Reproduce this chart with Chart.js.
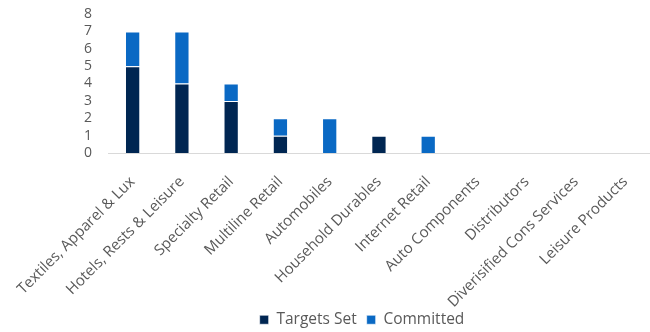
<!DOCTYPE html>
<html>
<head>
<meta charset="utf-8">
<script src="https://cdn.jsdelivr.net/npm/chart.js@4/dist/chart.umd.min.js"></script>
<style>
  html, body { margin: 0; padding: 0; background: #fff; }
  #wrap { width: 650px; height: 332px; }
</style>
</head>
<body>
<div id="wrap"><canvas id="c"></canvas></div>
<script>
const categories = [
  "Textiles, Apparel & Lux", "Hotels, Rests & Leisure", "Specialty Retail",
  "Multiline Retail", "Automobiles", "Household Durables", "Internet Retail",
  "Auto Components", "Distributors", "Diverisified Cons Services", "Leisure Products"
];
const targetsSet = [5, 4, 3, 1, 0, 1, 0, 0, 0, 0, 0];
const committed  = [2, 3, 1, 1, 2, 0, 1, 0, 0, 0, 0];
const yTicks = [0, 1, 2, 3, 4, 5, 6, 7, 8];

const textColor = "#595959";
const fontFamily = "'Open Sans', sans-serif";

// Plot box edges (px) and legend placement
const PLOT_TOP = 14;
const PLOT_BOTTOM = 153;
const LEGEND_BAND = 19;      // height reserved for the legend row
const LEGEND_TEXT_Y = 321;   // vertical centre of legend text
const LEGEND_CENTER_X = 362;
const LEGEND_PAD = 10;

const legendPlacer = {
  id: "legendPlacer",
  beforeLayout(chart) {
    const lg = chart.legend;
    if (lg && !lg._bandFit) {
      const fit = lg.fit.bind(lg);
      lg.fit = function () { fit(); this.height = LEGEND_BAND; };
      lg._bandFit = true;
    }
  },
  afterLayout(chart) {
    const lg = chart.legend;
    const half = Math.min(LEGEND_CENTER_X, chart.width - LEGEND_CENTER_X);
    lg.left = LEGEND_CENTER_X - half;
    lg.right = LEGEND_CENTER_X + half;
    const itemH = lg._itemHeight || 18;
    lg.top = LEGEND_TEXT_Y - LEGEND_PAD - itemH / 2;
    lg.bottom = chart.height;
    lg.height = lg.bottom - lg.top;
  }
};

new Chart(document.getElementById("c"), {
  type: "bar",
  data: {
    labels: categories,
    datasets: [
      { label: "Targets Set", data: targetsSet, backgroundColor: "#002652",
        borderColor: "rgba(255,255,255,0.6)", borderWidth: 1,
        barPercentage: 0.62, categoryPercentage: 0.5 },
      { label: "Committed", data: committed, backgroundColor: "#0A69C4",
        borderColor: "rgba(255,255,255,0.6)", borderWidth: 1,
        barPercentage: 0.62, categoryPercentage: 0.5 }
    ]
  },
  plugins: [legendPlacer],
  options: {
    responsive: true,
    maintainAspectRatio: false,
    animation: false,
    layout: { padding: 0 },
    plugins: {
      tooltip: { enabled: false },
      legend: {
        position: "bottom",
        labels: {
          color: textColor,
          font: { family: fontFamily, size: 15.5 },
          boxWidth: 9, boxHeight: 9, padding: LEGEND_PAD
        }
      }
    },
    scales: {
      x: {
        stacked: true,
        grid: { display: false },
        border: { color: "#d9d9d9", width: 1 },
        afterFit: (axis) => {
          axis.height = axis.chart.height - LEGEND_BAND - PLOT_BOTTOM;
        },
        ticks: {
          color: textColor,
          font: { family: fontFamily, size: 15 },
          minRotation: 45, maxRotation: 45, padding: 12, autoSkip: false
        }
      },
      y: {
        stacked: true,
        min: 0, max: 8,
        grid: { display: false },
        border: { display: false },
        afterFit: (axis) => {
          axis.width = 108;
          axis.paddingTop = PLOT_TOP;
          axis.paddingBottom = 0;
        },
        afterBuildTicks: (axis) => { axis.ticks = yTicks.map(v => ({ value: v })); },
        ticks: {
          color: textColor,
          font: { family: fontFamily, size: 14 },
          padding: 8,
          autoSkip: false
        }
      }
    }
  }
});
</script>
</body>
</html>
